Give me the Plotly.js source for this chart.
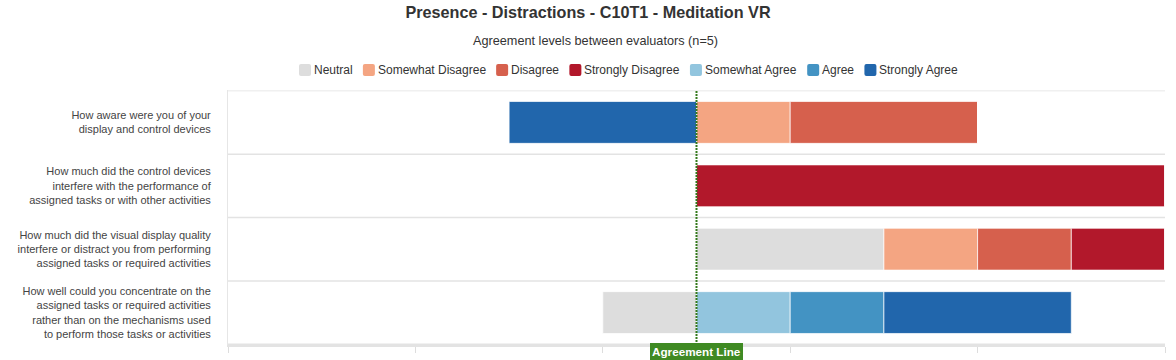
<!DOCTYPE html>
<html>
<head>
<meta charset="utf-8">
<script src="https://cdn.plot.ly/plotly-3.0.1.min.js"></script>
<style>
html,body{margin:0;padding:0;background:#fff;}
#chart{width:1176px;height:360px;}
</style>
</head>
<body>
<div id="chart"></div>
<script>
// Questions (top to bottom)
const questions = [
  "How aware were you of your<br>display and control devices",
  "How much did the control devices<br>interfere with the performance of<br>assigned tasks or with other activities",
  "How much did the visual display quality<br>interfere or distract you from performing<br>assigned tasks or required activities",
  "How well could you concentrate on the<br>assigned tasks or required activities<br>rather than on the mechanisms used<br>to perform those tasks or activities"
];
// Response categories (legend order)
const categories = ["Neutral","Somewhat Disagree","Disagree","Strongly Disagree","Somewhat Agree","Agree","Strongly Agree"];
const colors = ["#dddddd","#f4a582","#d6604d","#b2182b","#92c5de","#4393c3","#2166ac"];
// Counts per category per question (signed: negative = left of agreement line)
const neutral          = [0, 0, 2, -1];
const somewhatDisagree = [1, 0, 1, 0];
const disagree         = [2, 0, 1, 0];
const stronglyDisagree = [0, 5, 1, 0];
const somewhatAgree    = [0, 0, 0, 1];
const agree            = [0, 0, 0, 1];
const stronglyAgree    = [-2, 0, 0, 2];
const seriesValues = [neutral, somewhatDisagree, disagree, stronglyDisagree, somewhatAgree, agree, stronglyAgree];
const xTicks = [-5,-3,-1,1,3,5];
const nEvaluators = 5;

const FONT = 'Arial, "Liberation Sans", sans-serif';
const W = 1176, H = 360;
const M = {l:228, r:11, t:90, b:15};
const PW = W - M.l - M.r, PH = H - M.t - M.b;
const px2x = px => (px - M.l) / PW;          // page px -> paper x
const py2y = py => (H - M.b - py) / PH;      // page px -> paper y

const traces = categories.map((name,i)=>({
  type:'bar',
  orientation:'h',
  name:name,
  y:questions,
  x:seriesValues[i],
  marker:{color:colors[i], line:{color:'rgba(255,255,255,0.7)', width:1}},
  showlegend:false,
  hoverinfo:'name+x'
}));

const shapes = [];
for (let k=0;k<=questions.length;k++){
  shapes.push({type:'line', xref:'paper', yref:'y', x0:0, x1:1, y0:k-0.5, y1:k-0.5,
    line:{color: k===0 ? '#f0f0f0' : '#e3e3e3', width:1.5}, layer:'below'});
}
shapes.push({type:'line', xref:'x', yref:'paper', x0:0, x1:0, y0:0, y1:1,
  line:{color:'#357a1c', width:2, dash:'2px,1px'}});

const annotations = [
  {text:'Agreement levels between evaluators (n='+nEvaluators+')', xref:'paper', yref:'paper', x:px2x(595), y:py2y(41), xanchor:'center', yanchor:'middle',
    showarrow:false, font:{size:12.7, color:'#333', family:FONT}},
  {text:'<b>Agreement Line</b>', xref:'x', yref:'paper', x:0, y:0, yanchor:'middle', xanchor:'center', yshift:-6,
    showarrow:false, bgcolor:'#3f8a23', bordercolor:'#3f8a23', borderwidth:1, borderpad:1, font:{size:11.7, color:'#ffffff', family:FONT}}
];

// Legend row (compact, like the reference)
const ctx = document.createElement('canvas').getContext('2d');
ctx.font = '12px ' + FONT;
let cx = 299;
const legY = py2y(70);
categories.forEach((name,i)=>{
  shapes.push({type:'path', xref:'paper', yref:'paper', xsizemode:'pixel', ysizemode:'pixel',
    xanchor:px2x(cx), yanchor:legY,
    path:'M2,-6 H10 Q12,-6 12,-4 V4 Q12,6 10,6 H2 Q0,6 0,4 V-4 Q0,-6 2,-6 Z',
    fillcolor:colors[i], line:{width:0}});
  annotations.push({text:name, xref:'paper', yref:'paper', x:px2x(cx+13), y:legY, xanchor:'left', yanchor:'middle',
    showarrow:false, font:{size:12, color:'#333', family:FONT}});
  cx += 15 + ctx.measureText(name).width + 10.2;
});

const layout = {
  width:W, height:H,
  margin:M,
  paper_bgcolor:'#fff', plot_bgcolor:'#fff',
  font:{family:FONT, color:'#333'},
  title:{text:'<b>Presence - Distractions - C10T1 - Meditation VR</b>', x:0.5, xanchor:'center', y:1-12/360, yanchor:'middle',
    font:{size:16.2, color:'#333', family:FONT}},
  barmode:'relative',
  bargap:0.34,
  showlegend:false,
  xaxis:{range:[-5,5], tickvals:xTicks, showticklabels:false, ticks:'outside', ticklen:6, tickcolor:'#dddddd',
    showgrid:false, zeroline:false, showline:true, linecolor:'#e3e3e3', linewidth:1.5, fixedrange:true},
  yaxis:{autorange:'reversed', type:'category', showgrid:false, zeroline:false, showline:true, linecolor:'#e6e6e6', linewidth:1,
    ticks:'', tickfont:{size:11, color:'#444'}, ticklabelstandoff:14, fixedrange:true},
  shapes:shapes,
  annotations:annotations
};

Plotly.newPlot('chart', traces, layout, {displayModeBar:false});
</script>
</body>
</html>
